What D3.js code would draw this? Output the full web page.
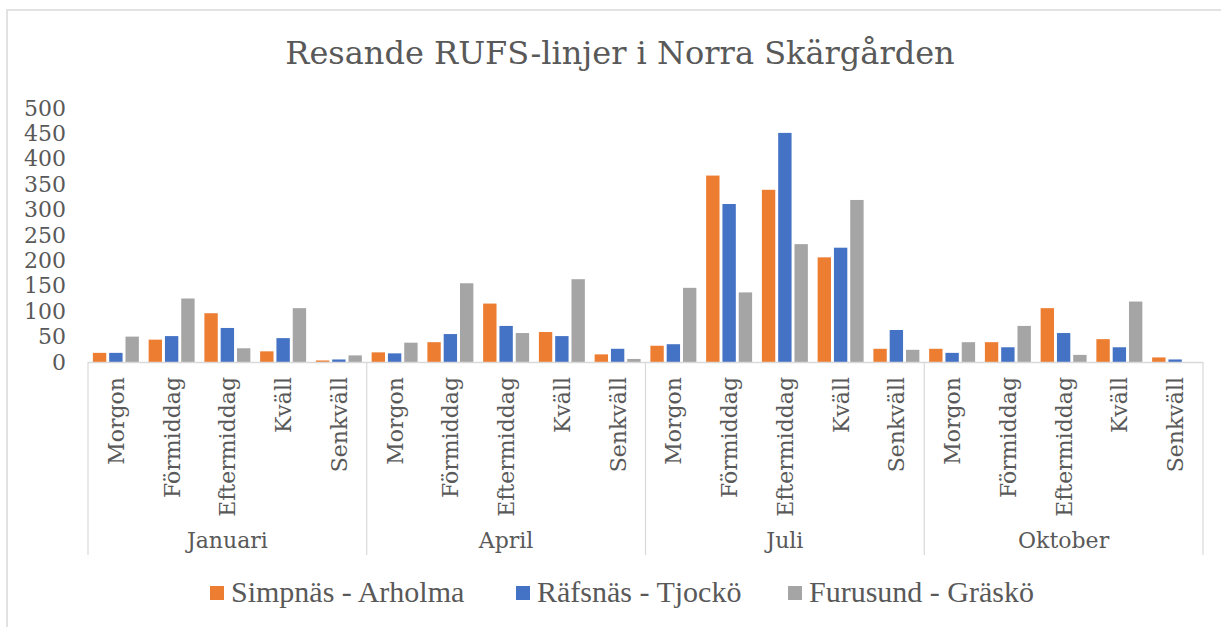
<!DOCTYPE html>
<html>
<head>
<meta charset="utf-8">
<script src="https://cdn.jsdelivr.net/npm/d3@7"></script>
<style>
  body { margin: 0; background: #fff; }
  svg { display: block; }
</style>
</head>
<body>
<svg id="chart" width="1221" height="627"></svg>
<script>
const months = ["Januari", "April", "Juli", "Oktober"];
const periods = ["Morgon", "Förmiddag", "Eftermiddag", "Kväll", "Senkväll"];
const series = ["Simpnäs - Arholma", "Räfsnäs - Tjockö", "Furusund - Gräskö"];
const colors = ["#ED7D31", "#4472C4", "#A5A5A5"];

// values per month, in period order
const simpnas  = [18, 44, 96, 21, 3,   19, 39, 115, 59, 15,   32, 367, 339, 206, 26,   26, 39, 106, 45, 9];
const rafsnas  = [18, 51, 67, 47, 5,   17, 55, 71, 51, 26,    35, 311, 451, 225, 63,   18, 29, 57, 29, 5];
const furusund = [50, 125, 27, 106, 13, 38, 155, 57, 163, 6,  146, 137, 232, 319, 24,  39, 71, 14, 119, 0];
const yTicks = [0, 50, 100, 150, 200, 250, 300, 350, 400, 450, 500];

const values = [simpnas, rafsnas, furusund];
const textColor = "#595959";
const lineColor = "#d9d9d9";

const svg = d3.select("#chart");

const plotLeft = 88, plotRight = 1203, plotTop = 108, plotBottom = 362;

const keys = [];
months.forEach(m => periods.forEach(p => keys.push(m + "|" + p)));

const rows = keys.map((k, i) => ({
    key: k,
    month: k.split("|")[0],
    period: k.split("|")[1],
    vals: series.map((s, j) => ({ s, v: values[j][i], c: colors[j] }))
}));

const x0 = d3.scaleBand().domain(keys).range([plotLeft, plotRight]);
const xm = d3.scaleBand().domain(months).range([plotLeft, plotRight]);
const x1 = d3.scaleBand().domain(series).range([0, x0.bandwidth()])
    .paddingInner(0.18).paddingOuter(0.3);
const y = d3.scaleLinear().domain([0, 500]).range([plotBottom, plotTop]);

// outer frame
svg.append("rect")
    .attr("x", 7).attr("y", 10)
    .attr("width", 1300).attr("height", 700)
    .attr("fill", "none")
    .attr("stroke", lineColor)
    .attr("stroke-width", 1.5);

svg.append("text")
    .attr("x", 620)
    .attr("y", 64)
    .attr("text-anchor", "middle")
    .attr("fill", textColor)
    .style("font-family", "DejaVu Serif")
    .style("font-size", "32px")
    .text("Resande RUFS-linjer i Norra Skärgården");

// y axis labels
const yAxis = svg.append("g")
    .attr("transform", `translate(${plotLeft},0)`)
    .call(d3.axisLeft(y).tickValues(yTicks).tickSize(0).tickPadding(22));
yAxis.select(".domain").remove();
yAxis.selectAll("text")
    .attr("fill", textColor)
    .style("font-family", "DejaVu Serif")
    .style("font-size", "22px");

// bars
const groups = svg.append("g").selectAll("g")
    .data(rows)
    .enter().append("g")
    .attr("transform", d => `translate(${x0(d.key)},0)`);

groups.selectAll("rect")
    .data(d => d.vals)
    .enter().append("rect")
    .attr("x", d => x1(d.s))
    .attr("y", d => y(d.v))
    .attr("width", x1.bandwidth())
    .attr("height", d => y(0) - y(d.v))
    .attr("fill", d => d.c);

// category axis
svg.append("line")
    .attr("x1", plotLeft).attr("x2", plotRight)
    .attr("y1", plotBottom + 0.5).attr("y2", plotBottom + 0.5)
    .attr("stroke", lineColor)
    .attr("stroke-width", 1.5);

const dividers = months.map(m => xm(m)).concat([plotRight]);
svg.append("g").selectAll("line")
    .data(dividers)
    .enter().append("line")
    .attr("x1", d => d).attr("x2", d => d)
    .attr("y1", plotBottom).attr("y2", 555)
    .attr("stroke", lineColor)
    .attr("stroke-width", 1.2);

svg.append("g").selectAll("text")
    .data(rows)
    .enter().append("text")
    .attr("transform", d => `translate(${x0(d.key) + x0.bandwidth() / 2},377) rotate(-90)`)
    .attr("dy", "0.36em")
    .attr("text-anchor", "end")
    .attr("fill", textColor)
    .style("font-family", "DejaVu Serif")
    .style("font-size", "22px")
    .text(d => d.period);

svg.append("g").selectAll("text")
    .data(months)
    .enter().append("text")
    .attr("x", d => xm(d) + xm.bandwidth() / 2)
    .attr("y", 548)
    .attr("text-anchor", "middle")
    .attr("fill", textColor)
    .style("font-family", "DejaVu Serif")
    .style("font-size", "22px")
    .text(d => d);

// legend
const legendX = [210, 516, 788];
const legend = svg.append("g").selectAll("g")
    .data(series)
    .enter().append("g")
    .attr("transform", (d, i) => `translate(${legendX[i]},586)`);

legend.append("rect")
    .attr("width", 14).attr("height", 14)
    .attr("fill", (d, i) => colors[i]);

legend.append("text")
    .attr("x", 21)
    .attr("y", 16)
    .attr("fill", textColor)
    .style("font-family", "Liberation Serif")
    .style("font-size", "30px")
    .text(d => d);
</script>
</body>
</html>
